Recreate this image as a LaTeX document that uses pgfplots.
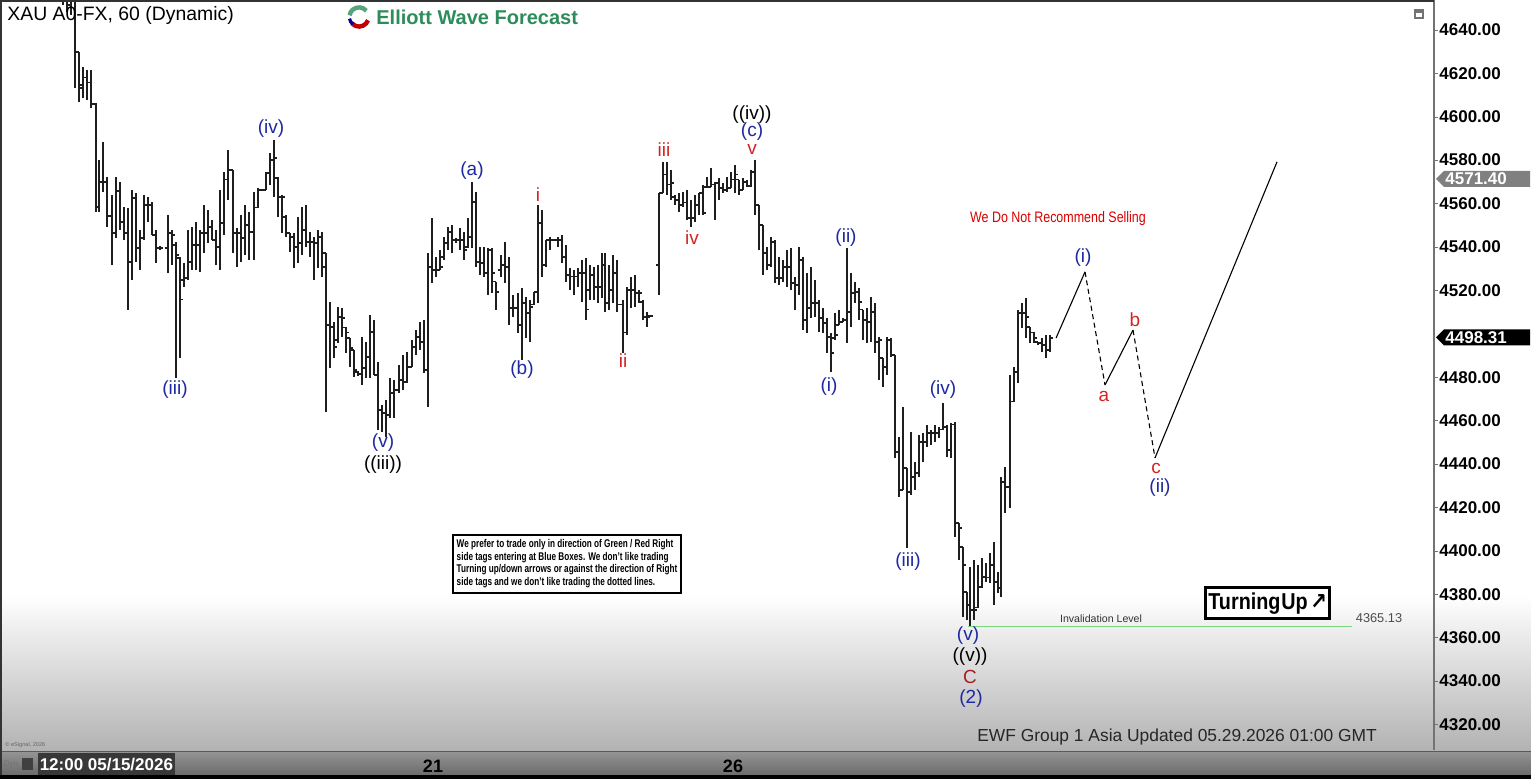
\documentclass[border=0pt]{standalone}
\usepackage{fontspec}
\setmainfont{Liberation Sans}
\newfontfamily\dejavu{DejaVu Sans}
\usepackage{graphicx}
\usepackage{pgfplots}
\pgfplotsset{compat=1.18}
\usepackage{pgfplotstable}
\definecolor{wblue}{RGB}{30,40,160}
\definecolor{wred}{RGB}{215,35,35}
\definecolor{wdred}{RGB}{165,30,35}
\definecolor{ewfgreen}{RGB}{45,140,90}
\definecolor{barc}{RGB}{30,30,30}
\definecolor{invg}{RGB}{125,215,125}
\pgfdeclareplotmark{otick}{\pgfpathmoveto{\pgfqpoint{-1.7pt}{0pt}}\pgfpathlineto{\pgfqpoint{0pt}{0pt}}\pgfusepathqstroke}
\pgfdeclareplotmark{ctick}{\pgfpathmoveto{\pgfqpoint{0pt}{0pt}}\pgfpathlineto{\pgfqpoint{1.7pt}{0pt}}\pgfusepathqstroke}
\pgfplotstableread{
x h l o c
63 4663.0 4651.5 4658.4 4653.8
67 4660.7 4648.3 4653.8 4651.5
71 4658.4 4646.9 4651.5 4653.8
75 4656.1 4613.2 4653.8 4629.8
79 4629.8 4606.8 4629.8 4613.2
83 4622.9 4608.6 4614.6 4617.9
87 4621.5 4607.7 4617.9 4615.6
91 4621.5 4604.0 4615.6 4605.9
96 4606.3 4556.1 4605.9 4558.4
99 4580.1 4556.1 4558.4 4569.9
103 4588.4 4565.3 4569.9 4569.9
107 4572.2 4549.2 4569.9 4554.3
112 4563.9 4531.7 4554.3 4546.4
116 4572.2 4544.1 4546.4 4565.8
120 4569.9 4547.8 4565.8 4551.5
124 4558.4 4543.2 4551.5 4546.4
128 4558.0 4511.0 4546.4 4533.1
132 4566.2 4524.8 4533.1 4562.6
136 4564.9 4533.1 4562.6 4539.5
140 4547.8 4529.4 4539.5 4544.1
144 4563.9 4543.2 4544.1 4559.3
148 4563.0 4551.5 4559.3 4559.3
152 4560.7 4545.5 4559.3 4545.5
156 4547.8 4532.6 4545.5 4539.5
160 4540.4 4538.6 4539.5 4539.5
168 4554.7 4528.0 4539.5 4546.4
172 4547.8 4531.7 4546.4 4545.5
176 4542.3 4479.6 4540.9 4536.3
180 4535.4 4488.8 4534.9 4515.6
184 4532.6 4521.5 4524.8 4525.7
188 4547.8 4524.8 4525.7 4533.1
192 4549.2 4529.4 4533.1 4540.9
196 4551.5 4529.4 4540.9 4540.9
200 4547.8 4528.5 4540.9 4546.4
204 4559.3 4537.2 4546.4 4546.4
208 4557.0 4541.8 4546.4 4549.2
212 4552.4 4543.2 4549.2 4543.2
216 4547.8 4531.7 4543.2 4540.0
220 4566.2 4529.4 4540.0 4551.0
224 4574.5 4545.5 4551.0 4570.9
228 4584.7 4561.6 4570.9 4575.5
233 4575.5 4537.2 4575.5 4546.4
237 4548.7 4530.8 4546.4 4546.4
241 4554.7 4533.1 4546.4 4544.1
245 4559.3 4536.3 4544.1 4550.1
249 4556.1 4534.0 4550.1 4546.9
254 4565.3 4534.0 4546.9 4558.0
258 4567.2 4558.0 4558.0 4566.2
262 4566.7 4565.8 4566.2 4566.2
266 4574.5 4566.2 4566.2 4574.1
270 4583.3 4568.6 4574.1 4580.1
274 4589.3 4563.0 4580.1 4581.0
278 4572.2 4553.8 4571.8 4563.0
282 4563.9 4546.4 4563.0 4563.0
286 4554.7 4544.6 4553.8 4546.4
290 4546.4 4537.7 4546.4 4544.6
294 4546.4 4530.3 4544.6 4540.0
298 4553.8 4532.6 4540.0 4541.8
302 4558.4 4536.3 4541.8 4547.8
306 4559.3 4540.0 4547.8 4542.3
310 4546.9 4535.4 4542.3 4542.3
314 4544.6 4524.8 4542.3 4541.8
318 4547.8 4530.3 4541.8 4544.6
322 4546.9 4526.2 4544.6 4530.8
326 4537.2 4464.0 4537.2 4504.0
330 4514.6 4484.2 4504.0 4503.1
334 4505.4 4488.8 4503.1 4493.9
338 4512.3 4495.7 4497.1 4507.7
342 4511.9 4498.5 4507.7 4507.3
346 4503.1 4491.1 4502.7 4500.4
350 4498.0 4484.7 4498.0 4493.4
354 4492.5 4480.1 4492.5 4483.3
358 4482.8 4480.5 4482.4 4481.5
362 4498.5 4476.4 4481.5 4484.2
366 4496.2 4479.6 4484.2 4489.3
370 4508.6 4479.6 4489.3 4500.8
374 4506.3 4481.0 4500.8 4481.0
378 4487.0 4455.7 4481.0 4464.9
382 4467.2 4454.7 4464.9 4463.5
386 4469.5 4452.4 4463.5 4462.6
390 4479.6 4461.2 4462.6 4472.7
394 4478.7 4461.2 4472.7 4474.1
399 4485.6 4472.7 4474.1 4478.7
403 4490.2 4474.1 4478.7 4477.8
407 4491.6 4477.3 4477.8 4484.7
412 4497.1 4484.7 4484.7 4493.9
416 4501.7 4490.2 4493.9 4498.5
420 4505.4 4492.5 4498.5 4496.2
424 4506.3 4481.9 4496.2 4483.3
428 4537.2 4466.3 4483.3 4530.8
432 4553.3 4523.4 4530.8 4529.4
436 4535.4 4526.2 4529.4 4529.4
440 4538.6 4529.4 4529.4 4530.8
444 4544.6 4534.0 4535.4 4541.8
448 4549.2 4538.6 4541.8 4546.9
452 4550.1 4537.2 4546.9 4543.2
456 4544.1 4541.8 4543.2 4543.2
460 4548.7 4538.6 4543.2 4543.2
464 4546.9 4534.0 4543.2 4538.6
468 4553.3 4539.5 4540.0 4544.6
472 4569.9 4539.5 4544.6 4560.7
476 4565.3 4530.8 4560.7 4533.1
480 4540.0 4527.1 4533.1 4532.6
484 4540.0 4526.2 4532.6 4528.0
488 4539.5 4517.9 4528.0 4538.6
492 4539.5 4518.8 4538.6 4528.0
496 4523.9 4511.0 4523.9 4519.2
501 4536.3 4526.2 4529.4 4531.7
505 4542.3 4523.4 4531.7 4530.8
509 4535.4 4504.0 4530.8 4511.9
513 4517.9 4507.7 4511.9 4511.9
518 4518.8 4500.4 4511.9 4504.0
522 4521.1 4487.9 4504.0 4514.2
526 4516.9 4498.0 4514.2 4509.6
530 4515.6 4496.2 4509.6 4512.3
534 4519.2 4513.3 4513.3 4519.2
538 4559.3 4514.2 4519.2 4551.0
542 4557.0 4526.2 4551.0 4531.7
546 4543.2 4530.8 4531.7 4543.2
550 4544.6 4538.6 4543.2 4543.2
554 4543.7 4542.7 4543.2 4543.2
558 4544.6 4540.0 4543.2 4543.2
562 4545.5 4532.6 4543.2 4535.4
566 4540.9 4523.9 4535.4 4527.1
570 4530.3 4520.2 4527.1 4526.2
574 4529.4 4517.9 4526.2 4526.2
578 4530.3 4521.5 4526.2 4528.0
582 4534.0 4514.6 4528.0 4528.0
586 4534.9 4506.3 4528.0 4511.0
590 4531.7 4515.6 4520.2 4527.1
594 4530.8 4515.6 4527.1 4521.5
598 4531.7 4514.2 4521.5 4521.5
602 4537.2 4516.5 4521.5 4531.7
605 4537.2 4510.0 4531.7 4514.2
609 4531.7 4511.0 4514.2 4520.2
613 4536.3 4514.2 4520.2 4528.0
617 4534.0 4510.0 4528.0 4513.3
623 4515.6 4491.1 4513.3 4500.4
627 4521.5 4499.4 4500.4 4520.2
631 4526.2 4511.9 4520.2 4520.2
635 4527.1 4512.3 4520.2 4518.8
639 4520.2 4514.2 4518.8 4518.8
643 4515.6 4506.3 4514.6 4507.7
647 4510.0 4503.1 4507.7 4507.7
650 4508.6 4507.7 4508.2 4508.2
659 4564.9 4517.9 4531.7 4564.9
663 4579.2 4564.9 4564.9 4573.2
667 4579.2 4563.9 4573.2 4568.6
671 4575.5 4561.6 4568.6 4569.5
675 4563.9 4559.3 4563.0 4561.6
679 4564.9 4556.1 4561.6 4559.3
683 4565.3 4558.4 4559.3 4560.3
687 4566.2 4552.4 4560.3 4553.3
691 4561.6 4549.2 4553.3 4553.3
695 4563.9 4551.5 4553.3 4559.3
699 4564.9 4554.7 4559.3 4564.9
703 4568.6 4554.7 4564.9 4555.6
707 4572.2 4567.6 4567.6 4567.6
711 4576.4 4567.6 4567.6 4568.6
715 4569.9 4552.4 4568.6 4569.5
719 4571.8 4561.6 4569.5 4567.2
723 4569.5 4564.9 4567.2 4566.2
727 4572.2 4565.3 4566.2 4567.2
731 4574.5 4567.2 4567.2 4570.9
735 4577.8 4564.9 4570.9 4573.2
739 4570.9 4563.9 4570.9 4566.2
743 4571.8 4566.2 4566.2 4569.9
747 4570.9 4567.6 4569.9 4568.1
751 4575.5 4567.6 4568.1 4574.5
755 4580.1 4554.7 4574.5 4559.3
759 4559.3 4538.6 4559.3 4550.1
763 4550.1 4527.1 4550.1 4537.2
767 4540.0 4529.4 4537.2 4531.7
771 4544.6 4530.8 4531.7 4542.3
775 4543.2 4523.4 4542.3 4525.7
779 4535.4 4522.5 4525.7 4525.7
783 4534.0 4523.9 4525.7 4530.8
787 4538.6 4521.5 4530.8 4530.8
791 4539.5 4520.2 4530.8 4523.4
795 4526.2 4511.0 4523.4 4522.5
799 4540.0 4517.9 4522.5 4534.0
803 4535.4 4501.7 4534.0 4506.3
807 4528.0 4500.4 4506.3 4511.9
811 4530.8 4507.3 4511.9 4514.2
815 4524.8 4507.7 4514.2 4514.2
819 4515.6 4500.8 4514.2 4507.3
823 4511.9 4500.4 4507.3 4505.0
827 4507.3 4491.1 4505.0 4498.5
831 4500.4 4482.4 4498.5 4491.1
835 4509.6 4497.1 4498.0 4499.4
839 4511.0 4504.0 4504.0 4505.4
843 4507.3 4505.4 4505.4 4506.3
847 4539.5 4495.7 4506.3 4510.0
851 4528.0 4503.1 4510.0 4518.8
855 4523.9 4514.2 4518.8 4519.2
859 4521.1 4506.3 4519.2 4514.6
863 4511.0 4497.1 4511.0 4506.3
867 4511.9 4495.7 4506.3 4505.4
871 4516.9 4496.2 4505.4 4510.0
875 4514.2 4491.1 4510.0 4496.2
879 4498.5 4478.7 4496.2 4497.1
883 4488.8 4475.5 4488.8 4484.7
887 4498.5 4481.0 4484.7 4497.1
891 4498.0 4489.3 4497.1 4490.2
895 4490.2 4442.8 4490.2 4445.5
899 4452.4 4424.8 4445.5 4428.0
903 4466.3 4428.0 4428.0 4438.1
907 4438.1 4401.3 4438.1 4427.1
911 4454.7 4425.7 4427.1 4434.0
915 4440.9 4428.0 4434.0 4435.8
919 4453.4 4434.0 4435.8 4450.1
923 4454.3 4440.9 4450.1 4450.1
927 4458.0 4447.8 4450.1 4454.3
931 4455.7 4448.7 4454.3 4454.3
935 4458.0 4450.1 4454.3 4454.3
939 4457.0 4452.0 4454.3 4455.7
943 4468.1 4455.7 4455.7 4457.0
947 4458.0 4443.2 4457.0 4446.4
951 4458.9 4442.8 4446.4 4458.0
955 4459.3 4406.3 4458.0 4412.8
959 4412.8 4395.8 4412.8 4410.5
963 4401.7 4369.5 4401.7 4393.4
967 4381.0 4368.1 4381.0 4375.0
970 4392.5 4365.3 4375.0 4372.7
974 4395.8 4368.1 4372.7 4372.7
978 4393.4 4373.6 4374.0 4383.3
982 4396.7 4382.8 4383.3 4387.9
986 4394.4 4385.6 4387.9 4387.5
990 4399.0 4385.2 4387.5 4393.4
994 4404.0 4375.0 4393.4 4385.6
998 4390.2 4380.5 4385.6 4382.8
1001 4434.0 4378.7 4382.8 4431.7
1005 4438.6 4417.4 4431.7 4429.4
1010 4481.0 4419.7 4429.4 4468.6
1014 4484.7 4468.6 4468.6 4482.4
1018 4511.0 4477.3 4482.4 4509.6
1022 4514.2 4502.7 4509.6 4509.6
1026 4516.5 4498.0 4509.6 4507.7
1030 4503.1 4495.7 4503.1 4500.4
1034 4500.8 4495.7 4500.4 4498.0
1038 4496.2 4494.8 4496.2 4495.7
1042 4498.0 4491.6 4495.7 4494.8
1046 4499.4 4488.8 4494.8 4492.5
1050 4499.4 4491.6 4492.5 4498.0
}\bars
\newcommand{\wl}[4]{\node[text=#1, font=\fontsize{9.5}{10}\selectfont, inner sep=0pt] at (axis cs:#2,#3) {#4};}
\begin{document}
\begin{tikzpicture}
\useasboundingbox (0,0) rectangle (765.5pt,389.5pt);
\fill[white] (0,0) rectangle (765.5pt,389.5pt);
\shade[top color=white, bottom color=black!30] (0,14pt) rectangle (765.5pt,92pt);
\shade[top color=black!42, bottom color=black!58] (0,2pt) rectangle (765.5pt,13.6pt);
\fill[black] (0,0) rectangle (765.5pt,2pt);
\draw[black!65, line width=0.6pt] (0,13.6pt) -- (765.5pt,13.6pt);
\begin{axis}[
  at={(0pt,14.5pt)}, anchor=south west, scale only axis,
  width=717pt, height=375pt,
  xmin=0, xmax=1434, ymin=4308.2, ymax=4653.8,
  axis x line*=bottom, axis y line*=right,
  x axis line style={draw=none},
  y axis line style={draw=black!55, line width=0.7pt},
  xtick={433,733}, xticklabels={21,26},
  xticklabel style={font=\bfseries\fontsize{9}{10}\selectfont, anchor=north, inner sep=0pt, yshift=-3pt},
  x tick style={draw=none},
  ytick={4320,4340,4360,4380,4400,4420,4440,4460,4480,4520,4540,4560,4580,4600,4620,4640},
  y tick style={black!55},
  major tick length=2pt,
  tick align=outside,
  yticklabel style={font=\bfseries\fontsize{8.5}{10}\selectfont, anchor=west, inner sep=0pt, xshift=0.5pt,
    /pgf/number format/.cd, fixed, fixed zerofill, precision=2, 1000 sep={}, assume math mode=true},
]
% high-low range with open tick
\addplot[barc, only marks, mark=otick, mark options={line width=0.6pt},
  error bars/.cd, y dir=both, y explicit, error mark=none,
  error bar style={line width=0.65pt, barc}]
  table[x=x, y=o, y error plus expr=\thisrow{h}-\thisrow{o}, y error minus expr=\thisrow{o}-\thisrow{l}] {\bars};
% close tick
\addplot[barc, only marks, mark=ctick, mark options={line width=0.6pt}] table[x=x, y=c] {\bars};
% invalidation level
\addplot[invg, line width=0.9pt] coordinates {(968,4365.13) (1352,4365.13)};
% projection
\addplot[black, line width=0.55pt] coordinates {(1056,4498.0) (1085,4528.5)};
\addplot[black, line width=0.55pt, dash pattern=on 2.5pt off 1.8pt] coordinates {(1085,4528.5) (1105,4476.4)};
\addplot[black, line width=0.55pt] coordinates {(1105,4476.4) (1133,4501.7)};
\addplot[black, line width=0.55pt, dash pattern=on 2.5pt off 1.8pt] coordinates {(1133,4501.7) (1155,4442.8)};
\addplot[black, line width=0.55pt] coordinates {(1155,4442.8) (1277,4579.2)};
% wave labels
\wl{wblue}{175}{4474.1}{(iii)}
\wl{wblue}{271}{4594.4}{(iv)}
\wl{wblue}{383}{4449.7}{(v)}
\wl{black}{383}{4439.5}{((iii))}
\wl{wblue}{472}{4575.0}{(a)}
\wl{wblue}{522}{4483.3}{(b)}
\wl{wred}{538}{4563.9}{i}
\wl{wred}{623}{4487.5}{ii}
\wl{wred}{664}{4584.7}{iii}
\wl{wred}{692}{4544.1}{iv}
\wl{wred}{752}{4584.7}{v}
\wl{wblue}{752}{4593.0}{(c)}
\wl{black}{752}{4600.8}{((iv))}
\wl{wblue}{829}{4475.5}{(i)}
\wl{wblue}{846}{4544.1}{(ii)}
\wl{wblue}{908}{4394.8}{(iii)}
\wl{wblue}{943}{4474.1}{(iv)}
\wl{wblue}{968}{4360.7}{(v)}
\wl{black}{970}{4351.1}{((v))}
\wl{wdred}{970}{4341.8}{C}
\wl{wblue}{971}{4331.7}{(2)}
\wl{wblue}{1083}{4534.9}{(i)}
\wl{wred}{1104}{4471.3}{a}
\wl{wred}{1135}{4506.3}{b}
\wl{wred}{1156}{4438.1}{c}
\wl{wblue}{1160}{4429.0}{(ii)}
\node[font=\fontsize{5.3}{6}\selectfont, text=black!80, anchor=south, inner sep=0.5pt] at (axis cs:1101,4366.2) {Invalidation Level};
\node[font=\fontsize{6.4}{7}\selectfont, text=black!70, anchor=south, inner sep=0.5pt] at (axis cs:1379,4366.2) {4365.13};
\coordinate (tagA) at (axis cs:1434,4571.4);
\coordinate (tagB) at (axis cs:1434,4498.31);
\end{axis}
% price tags
\fill[black!50] ([xshift=1pt]tagA) -- ++(4pt,4pt) -- ++(43pt,0pt) -- ++(0pt,-8pt) -- ++(-43pt,0pt) -- cycle;
\node[anchor=west, text=white, font=\bfseries\fontsize{8.5}{10}\selectfont, inner sep=0pt] at ([xshift=5.5pt]tagA) {4571.40};
\fill[black] ([xshift=1pt]tagB) -- ++(4pt,4pt) -- ++(43pt,0pt) -- ++(0pt,-8pt) -- ++(-43pt,0pt) -- cycle;
\node[anchor=west, text=white, font=\bfseries\fontsize{8.5}{10}\selectfont, inner sep=0pt] at ([xshift=5.5pt]tagB) {4498.31};
% frame
\draw[black!80, line width=0.8pt] (0.4pt,2pt) -- (0.4pt,389.1pt) -- (717pt,389.1pt);
% title and logo
\node[anchor=west, font=\fontsize{9.7}{11}\selectfont, inner sep=0pt] at (3.5pt,381.5pt) {XAU A0-FX, 60 (Dynamic)};
\draw[ewfgreen!80, line width=2.2pt] (179.5pt,381pt) ++(40:4.8pt) arc (40:170:4.8pt);
\draw[red!75!black, line width=2.2pt] (179.5pt,381pt) ++(-20:4.8pt) arc (-20:-140:4.8pt);
\draw[blue!60!black, line width=1.6pt] (179.5pt,381pt) ++(190:4.8pt) arc (190:230:4.8pt);
\node[anchor=west, font=\bfseries\fontsize{10}{11}\selectfont, text=ewfgreen, inner sep=0pt] at (188pt,381pt) {Elliott Wave Forecast};
\fill[black!55] (707pt,380pt) rectangle (712pt,385pt);
\fill[white] (708pt,381pt) rectangle (711pt,383pt);
% note
\node[red!85!black, font=\fontsize{7.6}{9}\selectfont, inner sep=0pt] at (529pt,280pt) {\scalebox{0.82}[1]{We Do Not Recommend Selling}};
% info box
\node[draw, line width=0.9pt, fill=white, inner sep=1.8pt] at (283.5pt,107.5pt) {\scalebox{0.73}[1]{\fontsize{5.6}{6.3}\selectfont\bfseries\begin{tabular}{@{}l@{}}We prefer to trade only in direction of Green / Red Right\\ side tags entering at Blue Boxes. We don't like trading\\ Turning up/down arrows or against the direction of Right\\ side tags and we don't like trading the dotted lines.\end{tabular}}};
% turning up box
\node[draw, line width=1.5pt, fill=white, minimum width=62pt, minimum height=15.5pt, inner sep=1pt] at (633.8pt,87.8pt) {\scalebox{0.86}[1]{\fontsize{11.5}{12}\selectfont\bfseries Turning\hspace{0.5pt}Up\hspace{1.5pt}{\dejavu\bfseries ↗}}};
% bottom texts
\node[font=\fontsize{8.7}{10}\selectfont, text=black!85, inner sep=0pt] at (588.5pt,21pt) {EWF Group 1 Asia Updated 05.29.2026 01:00 GMT};
\node[anchor=west, font=\fontsize{2.8}{3}\selectfont, text=black!60, inner sep=0pt] at (2.5pt,17pt) {\textcopyright{} eSignal, 2026};
\fill[black!78] (19pt,1.8pt) rectangle (87.5pt,12.8pt);
\node[text=white, font=\bfseries\fontsize{8.5}{10}\selectfont, inner sep=0pt] at (53.2pt,7.3pt) {12:00 05/15/2026};
\node[font=\fontsize{4}{5}\selectfont, text=black!55, inner sep=0pt] at (5.5pt,7.3pt) {Dyn};
\fill[black!75] (11pt,4.5pt) rectangle (16.5pt,10.5pt);
\end{tikzpicture}
\end{document}
